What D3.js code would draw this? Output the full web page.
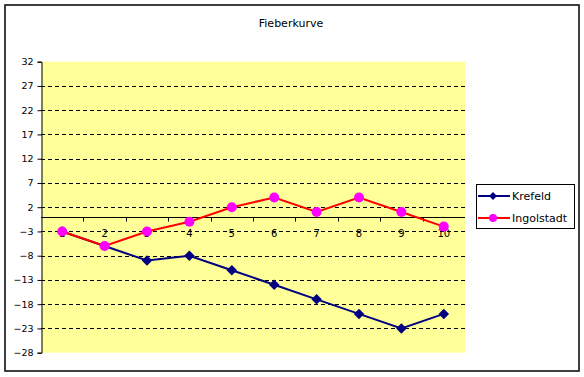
<!DOCTYPE html>
<html lang="de">
<head>
  <meta charset="UTF-8">
  <title>Fieberkurve</title>
  <style>
    body { margin: 0; background: #fff; }
    text { font-family: 'DejaVu Sans', sans-serif; fill: #000; }
  </style>
</head>
<body>
  <svg id="svg" width="584" height="377"></svg>

  <script src="https://d3js.org/d3.v7.min.js"></script>
  <script>
    const days = ['1', '2', '3', '4', '5', '6', '7', '8', '9', '10']
    const krefeld = [-3, -6, -9, -8, -11, -14, -17, -20, -23, -20]
    const ingolstadt = [-3, -6, -3, -1, 2, 4, 1, 4, 1, -2]
    const yTicks = [32, 27, 22, 17, 12, 7, 2, -3, -8, -13, -18, -23, -28]

    const svg = d3.select('#svg')

    // outer chart frame
    svg.append('rect')
      .attr('x', 5).attr('y', 5)
      .attr('width', 574).attr('height', 366)
      .attr('fill', '#fff')
      .attr('stroke', '#000')
      .attr('stroke-width', 1.5)

    svg.append('text')
      .attr('x', 291).attr('y', 27)
      .attr('text-anchor', 'middle')
      .attr('font-size', 11)
      .text('Fieberkurve')

    const plotL = 41, plotR = 465, plotT = 61.7, plotB = 352.7

    const x = d3.scaleBand()
      .domain(days)
      .range([plotL, plotR])

    const y = d3.scaleLinear()
      .domain([-28, 32])
      .range([plotB, plotT])

    svg.append('rect')
      .attr('x', plotL).attr('y', plotT)
      .attr('width', plotR - plotL).attr('height', plotB - plotT)
      .attr('fill', '#ffff99')

    // dashed gridlines
    svg.append('g')
      .selectAll('line')
      .data(yTicks.filter(d => d !== 32 && d !== -28))
      .enter()
      .append('line')
      .attr('x1', plotL).attr('x2', plotR)
      .attr('y1', d => Math.round(y(d)) + 0.5)
      .attr('y2', d => Math.round(y(d)) + 0.5)
      .attr('stroke', '#000')
      .attr('stroke-dasharray', '4,3')

    // y axis
    const yAxis = svg.append('g')
      .attr('transform', `translate(${plotL + 0.5},0)`)
      .call(d3.axisLeft(y).tickValues(yTicks).tickSize(4).tickPadding(4).tickFormat(d3.format('d')))
    yAxis.select('.domain').attr('stroke', '#000')
    yAxis.selectAll('text').attr('font-size', 9.5).attr('font-family', "'DejaVu Sans', sans-serif")

    // x axis at zero, ticks between categories
    const zeroY = Math.round(y(0)) + 0.5
    svg.append('line')
      .attr('x1', plotL).attr('x2', plotR)
      .attr('y1', zeroY).attr('y2', zeroY)
      .attr('stroke', '#000')
    svg.append('g')
      .selectAll('line')
      .data(days.slice(1))
      .enter()
      .append('line')
      .attr('x1', d => Math.round(x(d)) + 0.5)
      .attr('x2', d => Math.round(x(d)) + 0.5)
      .attr('y1', zeroY).attr('y2', zeroY + 4)
      .attr('stroke', '#000')
    svg.append('g')
      .selectAll('text')
      .data(days)
      .enter()
      .append('text')
      .attr('x', d => x(d) + x.bandwidth() / 2)
      .attr('y', zeroY + 19)
      .attr('text-anchor', 'middle')
      .attr('font-size', 10)
      .text(d => d)

    const line = d3.line()
      .x((d, i) => x(days[i]) + x.bandwidth() / 2)
      .y(d => y(d))

    // Krefeld
    svg.append('path')
      .datum(krefeld)
      .attr('d', line)
      .attr('fill', 'none')
      .attr('stroke', '#000080')
      .attr('stroke-width', 2)
    svg.append('g')
      .selectAll('path')
      .data(krefeld)
      .enter()
      .append('path')
      .attr('d', d3.symbol(d3.symbolDiamond2, 70))
      .attr('transform', (d, i) => `translate(${x(days[i]) + x.bandwidth() / 2},${y(d)})`)
      .attr('fill', '#000080')

    // Ingolstadt
    svg.append('path')
      .datum(ingolstadt)
      .attr('d', line)
      .attr('fill', 'none')
      .attr('stroke', '#ff0000')
      .attr('stroke-width', 2)
    svg.append('g')
      .selectAll('circle')
      .data(ingolstadt)
      .enter()
      .append('circle')
      .attr('cx', (d, i) => x(days[i]) + x.bandwidth() / 2)
      .attr('cy', d => y(d))
      .attr('r', 5)
      .attr('fill', '#ff00ff')

    // legend
    const legend = svg.append('g')
    legend.append('rect')
      .attr('x', 476.5).attr('y', 184.5)
      .attr('width', 98).attr('height', 44)
      .attr('fill', '#fff')
      .attr('stroke', '#000')
    const items = [
      { name: 'Krefeld', color: '#000080', marker: 'diamond' },
      { name: 'Ingolstadt', color: '#ff0000', marker: 'circle' }
    ]
    items.forEach((it, i) => {
      const ly = 196 + i * 22
      legend.append('line')
        .attr('x1', 478).attr('x2', 510)
        .attr('y1', ly).attr('y2', ly)
        .attr('stroke', it.color)
        .attr('stroke-width', 2)
      if (it.marker === 'diamond') {
        legend.append('path')
          .attr('d', d3.symbol(d3.symbolDiamond2, 40))
          .attr('transform', `translate(493,${ly})`)
          .attr('fill', '#000080')
      } else {
        legend.append('circle')
          .attr('cx', 493).attr('cy', ly).attr('r', 4)
          .attr('fill', '#ff00ff')
      }
      legend.append('text')
        .attr('x', 512).attr('y', ly + 4)
        .attr('font-size', 11)
        .text(it.name)
    })
  </script>
</body>
</html>
